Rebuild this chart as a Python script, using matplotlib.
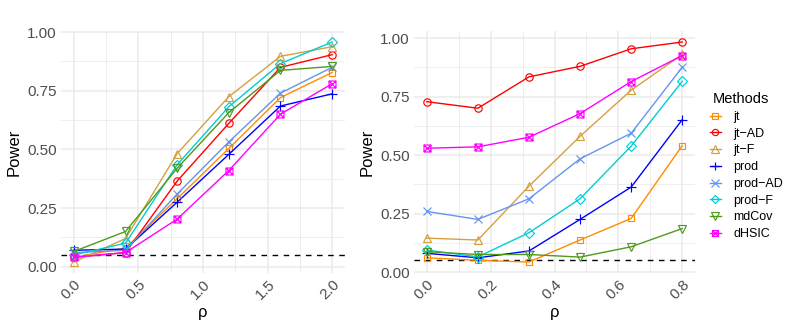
import matplotlib
matplotlib.use("Agg")
import matplotlib.pyplot as plt
from matplotlib.path import Path
from matplotlib.ticker import FixedLocator

plt.rcParams['font.family'] = ['Liberation Sans', 'DejaVu Sans']

methods = ["jt", "jt\u2212AD", "jt\u2212F", "prod", "prod\u2212AD", "prod\u2212F", "mdCov", "dHSIC"]
colors = ["#FF8C00", "#FF0000", "#D4A040", "#0000FF", "#6495ED", "#00CED1", "#4F9A1E", "#FF00FF"]

rho_left = [0.0, 0.4, 0.8, 1.2, 1.6, 2.0]
left = {
    "jt":      [0.04, 0.08, 0.29, 0.504, 0.721, 0.828],
    "jt-AD":   [0.04, 0.06, 0.365, 0.611, 0.850, 0.904],
    "jt-F":    [0.02, 0.12, 0.482, 0.725, 0.897, 0.938],
    "prod":    [0.07, 0.075, 0.275, 0.479, 0.685, 0.737],
    "prod-AD": [0.06, 0.07, 0.31, 0.532, 0.740, 0.850],
    "prod-F":  [0.05, 0.10, 0.435, 0.682, 0.866, 0.958],
    "mdCov":   [0.065, 0.15, 0.42, 0.657, 0.837, 0.854],
    "dHSIC":   [0.04, 0.06, 0.203, 0.41, 0.650, 0.780],
}

rho_right = [0.0, 0.16, 0.32, 0.48, 0.64, 0.8]
right = {
    "jt":      [0.061, 0.05, 0.043, 0.137, 0.229, 0.54],
    "jt-AD":   [0.728, 0.70, 0.834, 0.879, 0.954, 0.983],
    "jt-F":    [0.145, 0.137, 0.367, 0.58, 0.777, 0.93],
    "prod":    [0.08, 0.061, 0.09, 0.225, 0.363, 0.651],
    "prod-AD": [0.259, 0.225, 0.313, 0.484, 0.593, 0.875],
    "prod-F":  [0.094, 0.065, 0.168, 0.313, 0.538, 0.815],
    "mdCov":   [0.087, 0.075, 0.075, 0.064, 0.108, 0.186],
    "dHSIC":   [0.529, 0.535, 0.576, 0.677, 0.814, 0.925],
}
keys = ["jt", "jt-AD", "jt-F", "prod", "prod-AD", "prod-F", "mdCov", "dHSIC"]

alpha_level = 0.05

boxx = Path([(-1, -1), (1, -1), (1, 1), (-1, 1), (-1, -1), (-1, -1), (1, 1), (-1, 1), (1, -1)],
            [Path.MOVETO, Path.LINETO, Path.LINETO, Path.LINETO, Path.CLOSEPOLY,
             Path.MOVETO, Path.LINETO, Path.MOVETO, Path.LINETO])
markers = ["s", "o", "^", "+", "x", "D", "v", boxx]
msizes = [5.0, 5.3, 6.0, 7.5, 6.3, 5.0, 6.0, 5.0]

fig = plt.figure(figsize=(7.93, 3.31), dpi=100)
ax1 = fig.add_axes([61 / 793, 1 - 273 / 331, 284 / 793, 242 / 331])
ax2 = fig.add_axes([414 / 793, 1 - 273 / 331, 281 / 793, 242 / 331])

tick_col = "#4D4D4D"

def style(ax, xlim, ylim, xmaj, xmin, xlabels):
    ax.set_xlim(*xlim)
    ax.set_ylim(*ylim)
    for s in ax.spines.values():
        s.set_visible(False)
    ax.xaxis.set_major_locator(FixedLocator(xmaj))
    ax.xaxis.set_minor_locator(FixedLocator(xmin))
    ax.yaxis.set_major_locator(FixedLocator([0, 0.25, 0.5, 0.75, 1.0]))
    ax.yaxis.set_minor_locator(FixedLocator([0.125, 0.375, 0.625, 0.875]))
    ax.grid(which="major", color="#EBEBEB", lw=1.1)
    ax.grid(which="minor", color="#EBEBEB", lw=0.6)
    ax.set_axisbelow(True)
    ax.tick_params(which="both", length=0, colors=tick_col, labelsize=11, pad=3)
    ax.set_yticklabels(["0.00", "0.25", "0.50", "0.75", "1.00"])
    ax.set_xticklabels(xlabels)
    for lab in ax.get_xticklabels():
        lab.set_rotation(45)
        lab.set_ha("right")
        lab.set_va("top")
        lab.set_rotation_mode("anchor")
    ax.set_xlabel("\u03c1", fontsize=12, labelpad=2)
    ax.set_ylabel("Power", fontsize=12, labelpad=4)
    ax.axhline(alpha_level, color="black", lw=1.0, ls=(0, (4, 4)), zorder=1.5)

handles = []
for i, k in enumerate(keys):
    h, = ax1.plot(rho_left, left[k], color=colors[i], marker=markers[i], ms=msizes[i],
                  mfc="none", mew=0.85, lw=1.0, label=methods[i], zorder=3)
    ax2.plot(rho_right, right[k], color=colors[i], marker=markers[i], ms=msizes[i],
             mfc="none", mew=0.85, lw=1.0, zorder=3)
    handles.append(h)

style(ax1, (-0.1, 2.1), (-0.027, 1.005), [0, 0.5, 1.0, 1.5, 2.0], [0.25, 0.75, 1.25, 1.75],
      ["0.0", "0.5", "1.0", "1.5", "2.0"])
style(ax2, (-0.04, 0.84), (-0.004, 1.03), [0, 0.2, 0.4, 0.6, 0.8], [0.1, 0.3, 0.5, 0.7],
      ["0.0", "0.2", "0.4", "0.6", "0.8"])

fig.text(712.5 / 793, 1 - 99 / 331, "Methods", fontsize=10.5, ha="left", va="center",
         color="black")
leg = fig.legend(handles=handles, labels=methods, loc="upper left",
                 bbox_to_anchor=(710 / 793, 1 - 111 / 331), frameon=False,
                 fontsize=9, handlelength=0.85, handletextpad=1.0, labelspacing=0.38,
                 borderaxespad=0, borderpad=0, markerscale=0.85)

fig.savefig("out.png", dpi=100, facecolor="white")
